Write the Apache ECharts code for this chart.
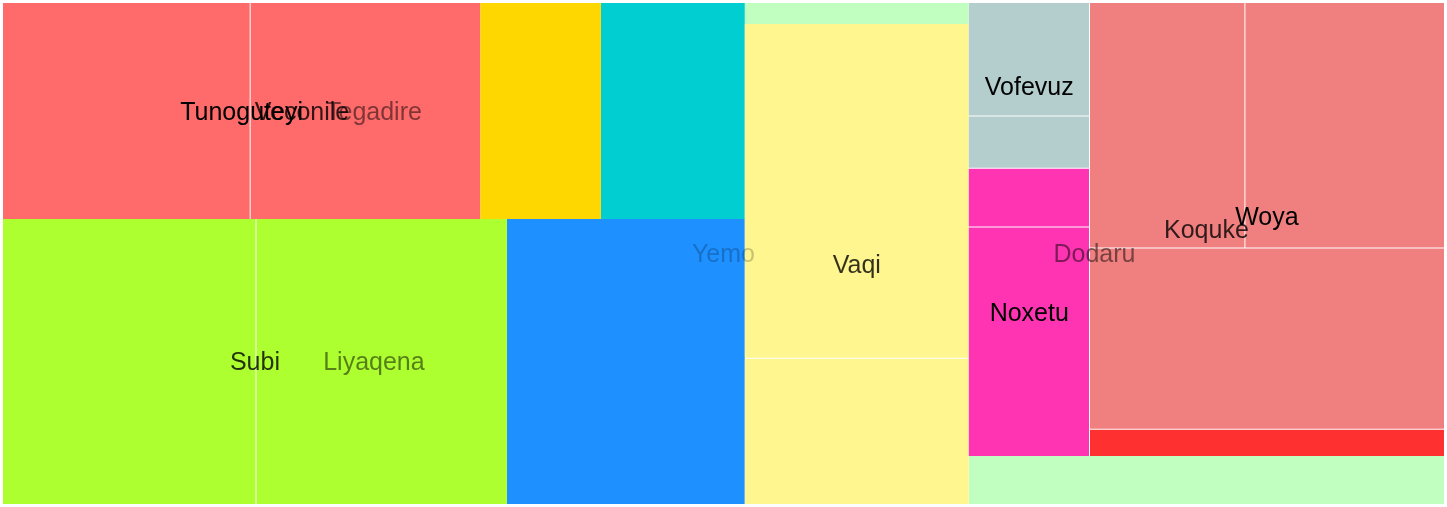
<!DOCTYPE html>
<html>
<head>
<meta charset="utf-8">
<script src="https://cdn.jsdelivr.net/npm/echarts@6/dist/echarts.min.js"></script>
<style>
html,body{margin:0;padding:0;background:#ffffff;}
#chart{width:1447px;height:507px;}
</style>
</head>
<body>
<div id="chart"></div>
<script>
// ---- data: leaf values of each group (no labels on leaves) ----
const rootName = 'Yemo';
const tunoguteyiValues   = [53.4, 49.7];
const veconileLeafValues = [26.1];
const tegadireLeafValues = [31.1];
const subiValues         = [72.1, 71.5];
const liyaqenaLeafValues = [67.8];
const dodaruTopValues    = [4.7];
const vaqiValues         = [74.8, 32.7];
const vofevuzValues      = [13.7, 6.3];
const noxetuValues       = [7.1, 27.7];
const woyaValues         = [38.0, 48.8, 64.1];
const koqukeLeafValues   = [9.6];
const dodaruBottomValues = [22.8];

// ---- styles (kept apart from data) ----
const leafColors = {
  tunoguteyi: '#FF6A6A', veconile: '#FFD700', tegadire: '#00CED1',
  subi: '#ADFF2F', liyaqena: '#1E90FF',
  dodaruTop: '#C1FFC1', vaqi: '#FFF68F', vofevuz: '#B4CDCD',
  noxetu: '#FF34B3', woya: '#F08080', koquke: '#FF3030', dodaruBottom: '#C1FFC1'
};
const gapGroups = ['Tunoguteyi', 'Subi', 'Vaqi', 'Vofevuz', 'Noxetu', 'Woya', 'Koquke'];
const depthOpacity = [0.22, 0.5, 0.8, 1];
const FONT = '"Liberation Sans", Arial, Helvetica, sans-serif';

function leaves(vals, key) {
  return vals.map((v, i) => ({ name: key + '-' + (i + 1), value: v, colorKey: key }));
}

const tree = { name: rootName, children: [
  { name: 'Tegadire', children: [
    { name: 'Veconile', children: [
      { name: 'Tunoguteyi', children: leaves(tunoguteyiValues, 'tunoguteyi') },
      ...leaves(veconileLeafValues, 'veconile')
    ]},
    ...leaves(tegadireLeafValues, 'tegadire')
  ]},
  { name: 'Liyaqena', children: [
    { name: 'Subi', children: leaves(subiValues, 'subi') },
    ...leaves(liyaqenaLeafValues, 'liyaqena')
  ]},
  { name: 'Dodaru', children: [
    ...leaves(dodaruTopValues, 'dodaruTop'),
    { name: 'Vaqi', children: leaves(vaqiValues, 'vaqi') },
    { name: 'Koquke', children: [
      { name: 'Vofevuz', children: leaves(vofevuzValues, 'vofevuz') },
      { name: 'Noxetu', children: leaves(noxetuValues, 'noxetu') },
      { name: 'Woya', children: leaves(woyaValues, 'woya') },
      ...leaves(koqukeLeafValues, 'koquke')
    ]},
    ...leaves(dodaruBottomValues, 'dodaruBottom')
  ]}
]};

function sum(n) { return n.children ? n.children.reduce((s, c) => s + sum(c), 0) : n.value; }

function toMain(n) {
  if (!n.children) {
    return { name: n.name, value: n.value, label: { show: false },
      itemStyle: { color: leafColors[n.colorKey], borderWidth: 0 } };
  }
  return { name: n.name, label: { show: false },
    itemStyle: { color: '#ffffff', borderColor: '#ffffff', borderWidth: 0,
      gapWidth: gapGroups.indexOf(n.name) >= 0 ? 1 : 0 },
    children: n.children.map(toMain) };
}

const clear = 'rgba(0,0,0,0)';
function toOverlay(n, depth, k) {
  const hasKids = !!n.children;
  if (depth === k || !hasKids) {
    return { name: n.name, value: sum(n),
      itemStyle: { color: clear, borderColor: clear, borderWidth: 0 },
      label: { show: depth === k && hasKids } };
  }
  return { name: n.name,
    itemStyle: { color: clear, borderColor: clear, borderWidth: 0, gapWidth: 0 },
    label: { show: false },
    children: n.children.map(c => toOverlay(c, depth + 1, k)) };
}

const common = {
  type: 'treemap', left: 3, top: 3, width: 1441, height: 501,
  sort: false, roam: false, nodeClick: false,
  breadcrumb: { show: false }, animation: false,
  squareRatio: 0.5 * (1 + Math.sqrt(5))
};

const series = [Object.assign({}, common, {
  z: 1,
  itemStyle: { borderWidth: 0, gapWidth: 0, borderColor: '#ffffff' },
  label: { show: false },
  upperLabel: { show: false },
  data: [toMain(tree)]
})];

for (let k = 0; k < 4; k++) {
  series.push(Object.assign({}, common, {
    z: 2 + k, silent: true,
    itemStyle: { color: clear, borderColor: clear, borderWidth: 0, gapWidth: 0 },
    upperLabel: { show: false },
    label: {
      position: 'inside', align: 'center', verticalAlign: 'middle',
      fontSize: 25, fontFamily: FONT, padding: 0, overflow: 'none',
      offset: [0, 2],
      color: 'rgba(0,0,0,' + depthOpacity[k] + ')'
    },
    data: [toOverlay(tree, 0, k)]
  }));
}

const chart = echarts.init(document.getElementById('chart'), null, { renderer: 'canvas' });
chart.setOption({ animation: false, tooltip: { show: false }, series: series });
</script>
</body>
</html>
